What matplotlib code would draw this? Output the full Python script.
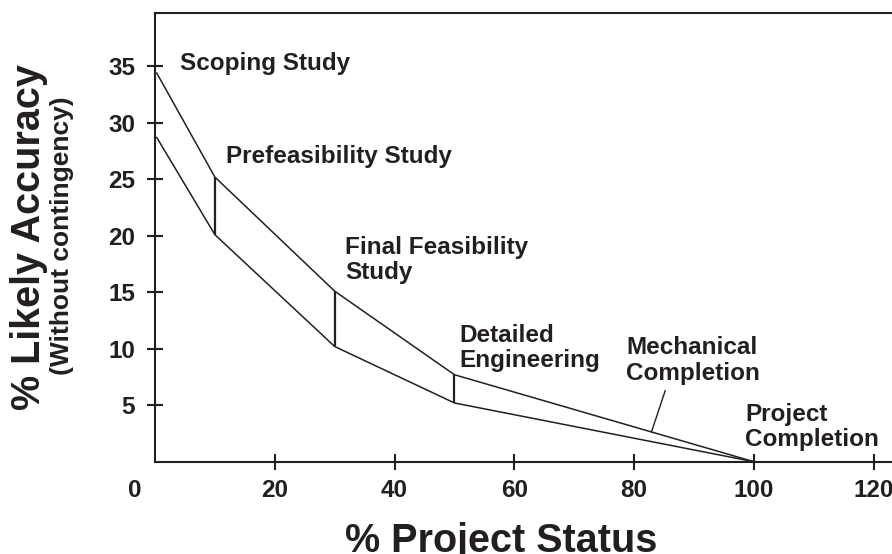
import numpy as np
import matplotlib
matplotlib.use("Agg")
import matplotlib.pyplot as plt

# data
status = [0.3, 10, 30, 50, 100]          # % project status
upper = [34.4, 25.2, 15.1, 7.7, 0.0]     # upper accuracy bound
lower = [28.7, 20.1, 10.2, 5.2, 0.0]     # lower accuracy bound
steps = [10, 30, 50]                     # where the band narrows

stage_names = ["Scoping Study", "Prefeasibility Study", "Final Feasibility\nStudy",
               "Detailed\nEngineering", "Mechanical\nCompletion", "Project\nCompletion"]
stage_pos = [(4.1, 36.3), (11.8, 28.05), (31.7, 20.0),
             (50.9, 12.2), (78.7, 11.1), (98.5, 5.2)]

xticks = [20, 40, 60, 80, 100, 120]
yticks = [5, 10, 15, 20, 25, 30, 35]

ink = "#231f20"
plt.rcParams['font.family'] = ['Liberation Sans', 'DejaVu Sans']
plt.rcParams['font.weight'] = 'bold'

fig = plt.figure(figsize=(8.92, 5.54), dpi=100)
ax = fig.add_axes([155 / 892, 92.3 / 554, 745 / 892, 448.4 / 554])

ax.plot(status, upper, color=ink, lw=1.1)
ax.plot(status, lower, color=ink, lw=1.1)
up = np.interp(steps, status, upper)
lo = np.interp(steps, status, lower)
ax.vlines(steps, lo, up, color=ink, lw=1.6)

# pointer from the mechanical completion label to the upper bound
ax.annotate('', xy=(82.9, np.interp(82.9, status, upper)), xytext=(85.2, 6.3),
            arrowprops=dict(arrowstyle='-', color=ink, lw=1.0, shrinkA=0, shrinkB=0))

for name, (x, y) in zip(stage_names, stage_pos):
    ax.text(x, y, name, ha='left', va='top', fontsize=17.5, fontweight='bold',
            color=ink, linespacing=1.14)

ax.set_xlim(0, 124.4)
ax.set_ylim(0, 39.7)
ax.set_xticks(xticks)
ax.set_yticks(yticks)
ax.tick_params(axis='both', direction='inout', length=11.5, width=1.5, color=ink,
               labelsize=17.5, labelcolor=ink)
ax.tick_params(axis='x', pad=7)
ax.tick_params(axis='y', pad=8.5)
for lab in ax.get_xticklabels() + ax.get_yticklabels():
    lab.set_fontweight('bold')
for side in ['left', 'bottom', 'top', 'right']:
    ax.spines[side].set_linewidth(1.5)
    ax.spines[side].set_color(ink)

# the 0 at the origin sits left of the axis, without a tick
ax.annotate('0', xy=(-3.37, 0), xycoords=('data', 'axes fraction'),
            xytext=(0, -12.75), textcoords='offset points', ha='center', va='top',
            fontsize=17.5, fontweight='bold', color=ink, annotation_clip=False)

fig.text(500.8 / 892, 1.5 / 554, '% Project Status', ha='center', va='baseline',
         fontsize=28.5, fontweight='bold', color=ink)
fig.text(29 / 892, (554 - 237) / 554, '% Likely Accuracy', rotation=90,
         ha='center', va='center', fontsize=28.5, fontweight='bold', color=ink)
fig.text(62 / 892, (554 - 236) / 554, '(Without contingency)', rotation=90,
         ha='center', va='center', fontsize=19, fontweight='bold', color=ink)

fig.savefig('out.png', dpi=100)
